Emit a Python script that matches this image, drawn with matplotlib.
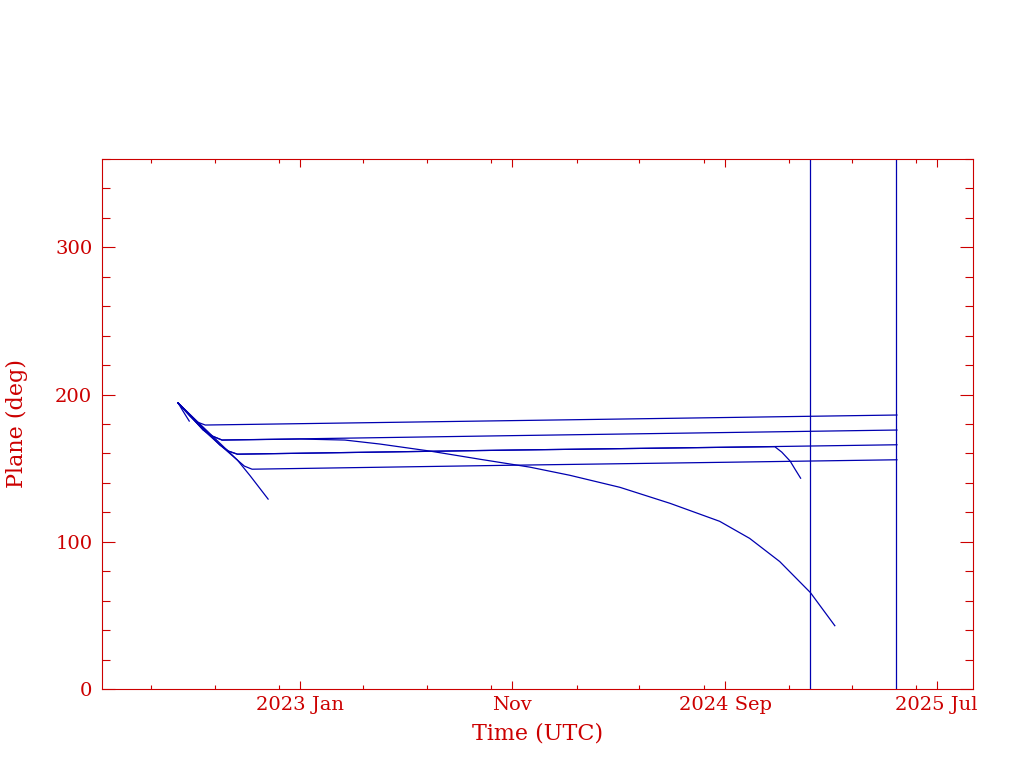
import matplotlib
matplotlib.use('Agg')
import matplotlib.pyplot as plt
import matplotlib.dates as mdates
from datetime import datetime


def d(s):
    return datetime.strptime(s, '%Y-%m-%d')


# launch / parking orbit track
park_t = ['2022-07-10', '2022-08-15', '2022-09-08', '2022-10-03', '2022-10-21', '2022-11-16']
park_v = [194.3, 176.0, 165.8, 155.5, 145.0, 129.0]

# short stub right after launch
stub_t = ['2022-07-10', '2022-07-17', '2022-07-26']
stub_v = [194.3, 188.8, 182.0]

# raised planes
a_t = ['2022-07-10', '2022-07-27', '2022-08-06', '2022-08-18', '2023-11-01', '2024-09-01', '2025-05-05']
a_v = [194.3, 185.4, 181.4, 179.3, 182.3, 184.4, 186.1]

b_t = ['2022-07-10', '2022-08-15', '2022-08-28', '2022-09-11', '2023-11-01', '2024-09-01', '2025-05-05']
b_v = [194.3, 176.0, 171.8, 169.1, 172.1, 174.2, 175.9]

c_t = ['2022-07-10', '2022-09-08', '2022-09-20', '2022-10-03', '2023-11-01', '2024-09-01', '2025-05-05']
c_v = [194.3, 165.8, 161.6, 159.5, 162.3, 164.2, 165.9]

d_t = ['2022-07-10', '2022-10-03', '2022-10-13', '2022-10-24', '2023-11-01', '2024-09-01', '2025-05-05']
d_v = [194.3, 155.5, 151.4, 149.3, 152.0, 154.0, 155.7]

# plane C satellite that deorbits late 2024
hook_t = ['2022-07-10', '2022-09-08', '2022-09-20', '2022-10-03', '2023-11-01', '2024-09-01',
          '2024-11-11', '2024-11-21', '2024-12-03', '2024-12-10', '2024-12-18']
hook_v = [194.3, 165.8, 161.6, 159.5, 162.3, 164.2, 164.6, 160.9, 154.8, 149.3, 143.2]

# decaying satellite leaving plane B
decay_t = ['2022-07-10', '2022-08-15', '2022-08-28', '2022-09-11', '2023-01-01', '2023-03-06',
           '2023-04-25', '2023-07-06', '2023-09-15', '2023-11-26', '2024-01-22', '2024-04-03',
           '2024-06-14', '2024-08-24', '2024-10-06', '2024-11-18', '2025-01-01', '2025-02-05']
decay_v = [194.3, 176.0, 171.8, 169.1, 169.8, 169.1,
           166.4, 161.6, 156.1, 150.7, 145.2, 137.0,
           126.1, 113.9, 102.3, 86.6, 65.5, 43.0]

marks = ['2025-01-01', '2025-05-04']

major_t = ['2023-01-01', '2023-11-01', '2024-09-01', '2025-07-01']
major_lab = ['2023 Jan', 'Nov', '2024 Sep', '2025 Jul']
minor_t = ['2022-06-01', '2022-09-01', '2022-12-01', '2023-04-01', '2023-07-01', '2023-10-01',
           '2024-02-01', '2024-05-01', '2024-08-01', '2024-12-01', '2025-03-01', '2025-06-01']

red = '#cc0000'
blue = '#0000b0'

plt.rcParams['font.family'] = ['DejaVu Serif']

fig = plt.figure(figsize=(10.24, 7.68), dpi=100)
ax = fig.add_axes([102 / 1024, 79 / 768, 871 / 1024, 530 / 768])

for tt, vv in [(park_t, park_v), (stub_t, stub_v), (a_t, a_v), (b_t, b_v), (c_t, c_v),
               (d_t, d_v), (hook_t, hook_v), (decay_t, decay_v)]:
    ax.plot([d(s) for s in tt], vv, color=blue, lw=0.9)

for m in marks:
    ax.axvline(d(m), color=blue, lw=0.9)

ax.set_xlim(d('2022-03-23'), d('2025-08-22'))
ax.set_ylim(0, 360)

ax.set_xticks([mdates.date2num(d(s)) for s in major_t])
ax.set_xticklabels(major_lab)
ax.set_xticks([mdates.date2num(d(s)) for s in minor_t], minor=True)
ax.set_yticks([0, 100, 200, 300])
ax.set_yticks(range(0, 361, 20), minor=True)

ax.tick_params(axis='x', which='major', direction='in', length=6, top=True,
               colors=red, labelsize=14, pad=5, width=0.8)
ax.tick_params(axis='x', which='minor', direction='in', length=3, top=True,
               colors=red, width=0.8)
ax.tick_params(axis='y', which='major', direction='in', length=9.4, right=True,
               colors=red, labelsize=14, pad=7, width=0.8)
ax.tick_params(axis='y', which='minor', direction='in', length=5.6, right=True,
               colors=red, width=0.8)

for sp in ax.spines.values():
    sp.set_color(red)
    sp.set_linewidth(0.8)

ax.set_xlabel('Time (UTC)', color=red, fontsize=16)
ax.set_ylabel('Plane (deg)', color=red, fontsize=16)
ax.xaxis.set_label_coords(0.5, -0.064)
ax.yaxis.set_label_coords(-0.085, 0.5)

fig.savefig('out.png', dpi=100)
